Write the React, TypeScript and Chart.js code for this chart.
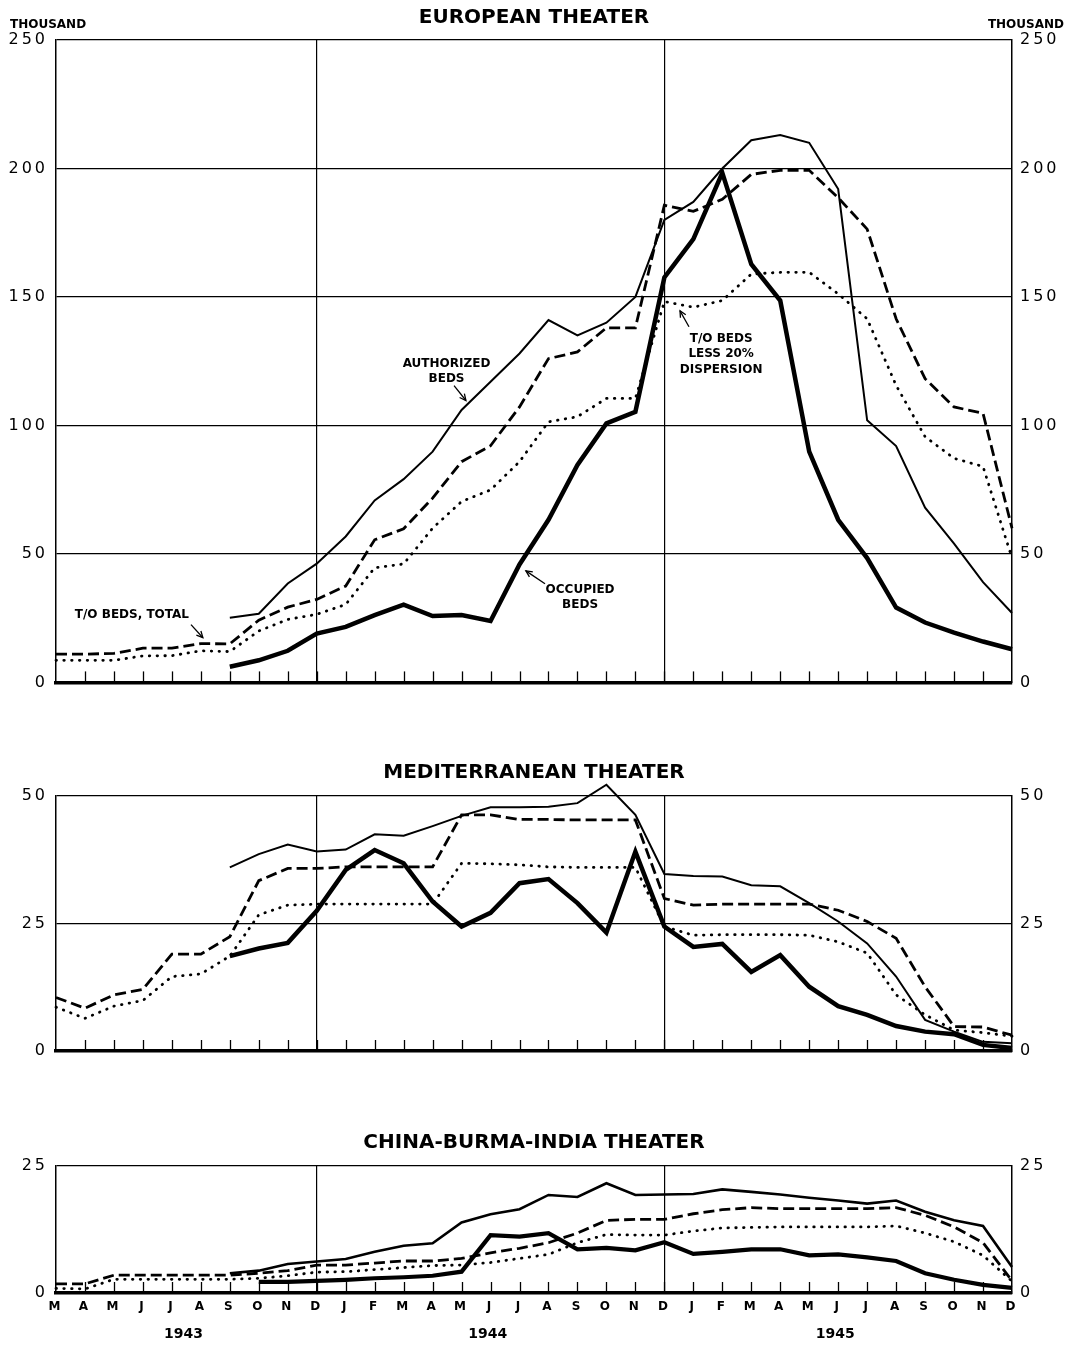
import React, { useEffect, useRef } from "react";
import { Chart, registerables } from "chart.js";

Chart.register(...registerables);

// ---------- categories ----------
const MONTHS = [
  "M", "A", "M", "J", "J", "A", "S", "O", "N", "D",
  "J", "F", "M", "A", "M", "J", "J", "A", "S", "O", "N", "D",
  "J", "F", "M", "A", "M", "J", "J", "A", "S", "O", "N", "D",
];
const YEARS = ["1943", "1944", "1945"];
const SERIES_NAMES = ["Authorized beds", "T/O beds, total", "T/O beds less 20% dispersion", "Occupied beds"];

// ---------- European theater (thousand) ----------
const EUR_AUTHORIZED = [
  null, null, null, null, null, null, 25.2, 26.7, 38.5, 46.2,
  56.8, 70.8, 79.1, 89.8, 106, 117, 128, 141, 135, 140, 150, 180,
  187, 200, 211, 213, 210, 192, 102, 92, 68, 54, 39, 27,
];
const EUR_TOTAL = [
  11, 11, 11.3, 13.3, 13.3, 15.1, 15, 24.2, 29.3, 32.3,
  37.5, 55.5, 59.8, 71.7, 85.9, 92.1, 107.2, 126, 128.6, 138, 138, 185.7,
  183.3, 188, 197.7, 199.3, 199.3, 188.6, 176.4, 141.5, 118.2, 107.2, 104.7, 60,
];
const EUR_DISPERSION = [
  8.6, 8.6, 8.6, 10.3, 10.4, 12.3, 12, 20, 24.5, 26.5,
  30.3, 44.6, 46.1, 60, 70.4, 74.9, 85.9, 101.4, 103.4, 110.5, 110.5, 148.2,
  146, 148.6, 158.9, 159.6, 159.6, 151.2, 141.5, 115.6, 95.6, 87.2, 84, 48.4,
];
const EUR_OCCUPIED = [
  null, null, null, null, null, null, 6.1, 8.6, 12.3, 19,
  21.6, 26.2, 30.3, 25.8, 26.2, 23.9, 45.9, 63.3, 84.6, 100.8, 105.3, 157.6,
  172.5, 198.3, 162.8, 148.6, 89.8, 63.3, 48.4, 29.1, 23.3, 19.4, 15.9, 12.9,
];

// ---------- Mediterranean theater (thousand) ----------
const MED_AUTHORIZED = [
  null, null, null, null, null, null, 36, 38.6, 40.5, 39.1,
  39.5, 42.5, 42.2, 44.1, 46.1, 47.8, 47.8, 47.9, 48.6, 52.2, 46.3, 34.7,
  34.3, 34.2, 32.5, 32.3, 29, 25.4, 21.1, 14.6, 6.1, 3.8, 1.8, 1.5,
];
const MED_TOTAL = [
  10.5, 8.4, 11, 12.1, 19, 19, 22.4, 33.4, 35.8, 35.8,
  36.1, 36.1, 36.1, 36.1, 46.3, 46.3, 45.4, 45.4, 45.3, 45.3, 45.3, 29.9,
  28.6, 28.8, 28.8, 28.8, 28.8, 27.6, 25.4, 22.1, 12.6, 4.8, 4.7, 3.1,
];
const MED_DISPERSION = [
  8.6, 6.4, 8.8, 9.9, 14.6, 15.1, 18.6, 26.7, 28.6, 28.8,
  28.8, 28.8, 28.8, 28.8, 36.8, 36.7, 36.5, 36.1, 36, 36, 36, 24.4,
  22.7, 22.8, 22.8, 22.8, 22.7, 21.4, 19.2, 11, 7.1, 4.1, 3.6, 2.9,
];
const MED_OCCUPIED = [
  null, null, null, null, null, null, 18.6, 20.1, 21.2, 27.5,
  35.5, 39.4, 36.8, 29.3, 24.4, 27.1, 32.9, 33.7, 29, 23.2, 39.1, 24.4,
  20.4, 21, 15.5, 18.8, 12.6, 8.8, 7.1, 4.9, 3.8, 3.3, 1.2, 0.6,
];

// ---------- China-Burma-India theater (thousand) ----------
const CBI_AUTHORIZED = [
  null, null, null, null, null, null, 3.9, 4.4, 5.7, 6.2,
  6.7, 8.1, 9.3, 9.8, 13.9, 15.5, 16.5, 19.3, 18.9, 21.6, 19.3, 19.4,
  19.5, 20.4, 19.9, 19.4, 18.75, 18.2, 17.6, 18.2, 16, 14.3, 13.2, 5.1,
];
const CBI_TOTAL = [
  1.8, 1.8, 3.5, 3.5, 3.5, 3.5, 3.5, 3.9, 4.4, 5.5,
  5.5, 5.9, 6.3, 6.3, 6.8, 7.9, 8.8, 9.9, 11.8, 14.3, 14.5, 14.5,
  15.6, 16.4, 16.8, 16.6, 16.6, 16.6, 16.6, 16.8, 15.3, 13, 9.9, 2.4,
];
const CBI_DISPERSION = [
  0.9, 0.8, 2.7, 2.7, 2.7, 2.7, 2.7, 2.9, 3.4, 4.1,
  4.2, 4.6, 5, 5.4, 5.5, 6, 6.8, 7.6, 9.9, 11.5, 11.4, 11.4,
  12.2, 12.8, 12.9, 13, 13, 13, 13, 13.2, 11.8, 10.1, 7.4, 2.3,
];
const CBI_OCCUPIED = [
  null, null, null, null, null, null, null, 2.2, 2.2, 2.4,
  2.6, 2.9, 3.1, 3.4, 4.2, 11.4, 11.1, 11.8, 8.6, 8.9, 8.4, 10,
  7.7, 8.1, 8.6, 8.6, 7.4, 7.6, 7, 6.3, 3.9, 2.6, 1.6, 1,
];

// ---------- annotations (anchored in data units: month index, value) ----------
type Note = { lines: string[]; at: [number, number]; from: [number, number]; to: [number, number] };
const EUR_NOTES: Note[] = [
  { lines: ["AUTHORIZED", "BEDS"], at: [13.48, 124], from: [13.74, 115.5], to: [14.15, 109.7] },
  { lines: ["T/O BEDS, TOTAL"], at: [2.62, 26.4], from: [4.66, 22.5], to: [5.07, 17.4] },
  { lines: ["T/O BEDS", "LESS 20%", "DISPERSION"], at: [22.96, 133.7], from: [21.85, 138.4], to: [21.54, 144.6] },
  { lines: ["OCCUPIED", "BEDS"], at: [18.09, 36.2], from: [16.88, 38.4], to: [16.22, 43.4] },
];
const YEAR_AT = [4.4, 14.9, 26.9];
const DIVIDERS = [9, 21];

// ---------- styles ----------
const FONT = '"DejaVu Sans", "Liberation Sans", sans-serif';
const STYLES = [
  { borderDash: [] as number[], borderCapStyle: "butt" },
  { borderDash: [11, 5], borderCapStyle: "butt" },
  { borderDash: [0.5, 7.3], borderCapStyle: "round" },
  { borderDash: [] as number[], borderCapStyle: "butt" },
];

type Panel = {
  title: string;
  top: number;
  height: number;
  padTop: number;
  xAxisH: number;
  max: number;
  step: number;
  titleY: number;
  data: (number | null)[][];
  widths: number[];
  months: boolean;
  thousand: boolean;
  notes: Note[];
};

const PANELS: Panel[] = [
  {
    title: "EUROPEAN THEATER", top: 0, height: 700, padTop: 40, xAxisH: 15, max: 250, step: 50, titleY: 18,
    data: [EUR_AUTHORIZED, EUR_TOTAL, EUR_DISPERSION, EUR_OCCUPIED], widths: [2, 2.8, 2.8, 4.5],
    months: false, thousand: true, notes: EUR_NOTES,
  },
  {
    title: "MEDITERRANEAN THEATER", top: 740, height: 330, padTop: 56, xAxisH: 19, max: 50, step: 25, titleY: 33,
    data: [MED_AUTHORIZED, MED_TOTAL, MED_DISPERSION, MED_OCCUPIED], widths: [2, 2.8, 2.8, 4.5],
    months: false, thousand: false, notes: [],
  },
  {
    title: "CHINA-BURMA-INDIA THEATER", top: 1110, height: 235, padTop: 56, xAxisH: 52, max: 25, step: 25, titleY: 33,
    data: [CBI_AUTHORIZED, CBI_TOTAL, CBI_DISPERSION, CBI_OCCUPIED], widths: [2.6, 2.8, 2.8, 4.2],
    months: true, thousand: false, notes: [],
  },
];

function drawArrow(ctx: CanvasRenderingContext2D, x1: number, y1: number, x2: number, y2: number) {
  ctx.beginPath();
  ctx.moveTo(x1, y1);
  ctx.lineTo(x2, y2);
  ctx.stroke();
  const a = Math.atan2(y2 - y1, x2 - x1);
  const L = 7;
  const w = 0.45;
  ctx.beginPath();
  ctx.moveTo(x2 - L * Math.cos(a - w), y2 - L * Math.sin(a - w));
  ctx.lineTo(x2, y2);
  ctx.lineTo(x2 - L * Math.cos(a + w), y2 - L * Math.sin(a + w));
  ctx.stroke();
}

function decorPlugin(cfg: Panel) {
  return {
    id: "decor",
    beforeDraw(chart: any) {
      (chart.ctx as any).letterSpacing = "3px";
    },
    afterDraw(chart: any) {
      const ctx: CanvasRenderingContext2D = chart.ctx;
      const { left, right, bottom } = chart.chartArea;
      const xs = chart.scales.x;
      const ys = chart.scales.y;
      ctx.save();
      (ctx as any).letterSpacing = "0px";
      ctx.strokeStyle = "#000";
      ctx.fillStyle = "#000";
      // month tick marks rising from the base line
      ctx.lineWidth = 1.3;
      for (let i = 1; i < MONTHS.length - 1; i++) {
        const x = Math.round(xs.getPixelForValue(i)) + 0.5;
        ctx.beginPath();
        ctx.moveTo(x, bottom);
        ctx.lineTo(x, bottom - 11);
        ctx.stroke();
      }
      // title
      ctx.font = `bold 20px ${FONT}`;
      ctx.textAlign = "center";
      ctx.textBaseline = "middle";
      ctx.fillText(cfg.title, (left + right) / 2, cfg.titleY);
      if (cfg.thousand) {
        ctx.font = `bold 12px ${FONT}`;
        ctx.textAlign = "left";
        ctx.fillText("THOUSAND", 10, 25);
        ctx.textAlign = "right";
        ctx.fillText("THOUSAND", 1064, 25);
      }
      // notes
      ctx.font = `bold 12px ${FONT}`;
      ctx.textAlign = "center";
      ctx.lineWidth = 1.3;
      for (const n of cfg.notes) {
        const x = xs.getPixelForValue(n.at[0]);
        const y = ys.getPixelForValue(n.at[1]);
        n.lines.forEach((t, k) => ctx.fillText(t, x, y + k * 15.5));
        drawArrow(
          ctx,
          xs.getPixelForValue(n.from[0]), ys.getPixelForValue(n.from[1]),
          xs.getPixelForValue(n.to[0]), ys.getPixelForValue(n.to[1]),
        );
      }
      // years
      if (cfg.months) {
        ctx.font = `bold 14px ${FONT}`;
        ctx.textAlign = "center";
        YEARS.forEach((yr, k) => ctx.fillText(yr, xs.getPixelForValue(YEAR_AT[k]), bottom + 41));
      }
      ctx.restore();
    },
  };
}

function PanelChart({ cfg }: { cfg: Panel }) {
  const ref = useRef<HTMLCanvasElement>(null);
  useEffect(() => {
    const canvas = ref.current;
    if (!canvas) return;
    const tickFont = { family: FONT, size: 16, weight: "normal" as const };
    const chart = new Chart(canvas, {
      type: "line",
      data: {
        labels: MONTHS,
        datasets: cfg.data.map((d, i) => ({
          label: SERIES_NAMES[i],
          data: d,
          borderColor: "#000",
          backgroundColor: "#000",
          borderWidth: cfg.widths[i],
          borderDash: STYLES[i].borderDash,
          borderCapStyle: STYLES[i].borderCapStyle as any,
          borderJoinStyle: "miter" as const,
          pointRadius: 0,
          fill: false,
          tension: 0,
          spanGaps: false,
          clip: false as any,
        })),
      },
      options: {
        animation: false,
        responsive: false,
        devicePixelRatio: 1,
        layout: { padding: { top: cfg.padTop, left: 0, right: 0, bottom: 0 } },
        plugins: { legend: { display: false }, tooltip: { enabled: false }, title: { display: false } },
        scales: {
          x: {
            type: "category",
            offset: false,
            grid: {
              color: (c: any) => (DIVIDERS.includes(c.index) ? "#000" : "rgba(0,0,0,0)"),
              lineWidth: 1.2,
              drawTicks: false,
            },
            border: { display: true, color: "#000", width: 3.5 },
            ticks: {
              display: cfg.months,
              autoSkip: false,
              maxRotation: 0,
              minRotation: 0,
              padding: 7,
              color: "#000",
              font: { family: FONT, size: 12, weight: "bold" },
            },
            afterFit: (s: any) => {
              s.height = cfg.xAxisH;
            },
          },
          y: {
            position: "left",
            min: 0,
            max: cfg.max,
            ticks: { stepSize: cfg.step, padding: 8, color: "#000", font: tickFont },
            grid: { color: "#000", lineWidth: 1.2, drawTicks: false },
            border: { display: true, color: "#000", width: 1.5 },
            afterFit: (s: any) => {
              s.width = 56;
            },
          },
          y2: {
            position: "right",
            min: 0,
            max: cfg.max,
            ticks: { stepSize: cfg.step, padding: 8, color: "#000", font: tickFont },
            grid: { drawOnChartArea: false, drawTicks: false },
            border: { display: true, color: "#000", width: 1.5 },
            afterFit: (s: any) => {
              s.width = 66;
            },
          },
        },
      },
      plugins: [decorPlugin(cfg)],
    });
    return () => chart.destroy();
  }, [cfg]);
  return (
    <canvas
      ref={ref}
      width={1078}
      height={cfg.height}
      style={{ position: "absolute", left: 0, top: cfg.top, width: 1078, height: cfg.height, display: "block" }}
    />
  );
}

export default function App() {
  return (
    <div style={{ position: "absolute", left: 0, top: 0, width: 1078, height: 1345, background: "#fff" }}>
      {PANELS.map((p) => (
        <PanelChart key={p.title} cfg={p} />
      ))}
    </div>
  );
}
